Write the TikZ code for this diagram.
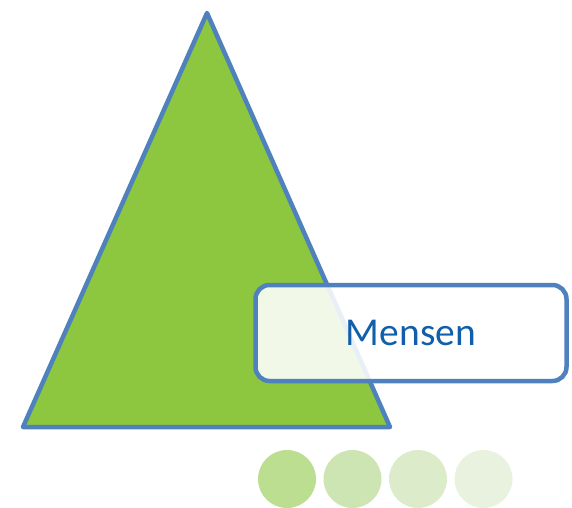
\documentclass[tikz,border=0pt]{standalone}
\usepackage{fontspec}
\setmainfont{Carlito}
\definecolor{leafgreen}{RGB}{141,198,63}
\definecolor{edgeblue}{RGB}{79,129,189}
\definecolor{textblue}{RGB}{17,95,170}
\definecolor{dotA}{RGB}{187,222,145}
\definecolor{dotB}{RGB}{204,229,178}
\definecolor{dotC}{RGB}{220,236,203}
\definecolor{dotD}{RGB}{233,242,223}
\begin{document}
\begin{tikzpicture}[x=1pt,y=-1pt,
  dot/.style={circle, minimum size=58pt, inner sep=0pt}]

\useasboundingbox (0,0) rectangle (572,507);

\draw [edgeblue, line width=4.5pt, fill=leafgreen, line join=round] (207,13) -- (390,427) -- (23,427) -- cycle;

\node (label) [draw=edgeblue, line width=4.5pt, fill=white, fill opacity=0.88, text opacity=1, rounded corners=14pt, minimum width=311pt, minimum height=96pt, text=textblue, font=\fontsize{39.5}{46}\selectfont] at (411,333) {Mensen};

\node (d1) [dot, fill=dotA] at (287,479) {};
\node (d2) [dot, fill=dotB] at (352.5,479) {};
\node (d3) [dot, fill=dotC] at (418,479) {};
\node (d4) [dot, fill=dotD] at (483.5,479) {};
\end{tikzpicture}
\end{document}
